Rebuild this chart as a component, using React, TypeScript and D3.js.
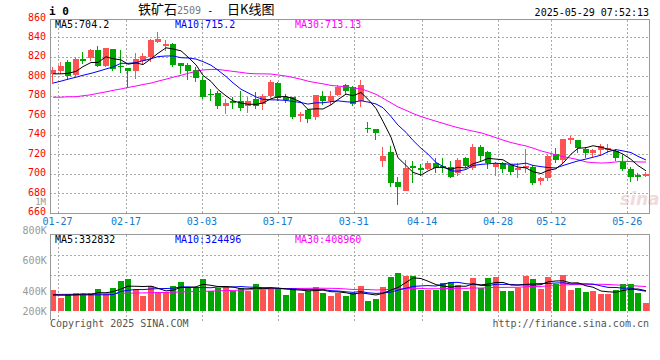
import React from "react";
import * as d3 from "d3";

const DATES = [
  "01-24","01-27","02-05","02-06","02-07","02-10","02-11","02-12","02-13","02-14",
  "02-17","02-18","02-19","02-20","02-21","02-24","02-25","02-26","02-27","02-28",
  "03-03","03-04","03-05","03-06","03-07","03-10","03-11","03-12","03-13","03-14",
  "03-17","03-18","03-19","03-20","03-21","03-24","03-25","03-26","03-27","03-28",
  "03-31","04-01","04-02","04-03","04-07","04-08","04-09","04-10","04-11",
  "04-14","04-15","04-16","04-17","04-18","04-21","04-22","04-23","04-24","04-25",
  "04-28","04-29","04-30","05-06","05-07","05-08","05-09",
  "05-12","05-13","05-14","05-15","05-16","05-19","05-20","05-21","05-22","05-23",
  "05-26","05-27","05-28","05-29"
];

const OPEN = [
  802, 805.5, 814.5, 801.5, 817.5, 818.5, 827, 810.5, 827.5, 811,
  808, 805.5, 816, 820, 835, 831, 833, 814, 811.5, 806,
  796, 782, 783, 770, 774.5, 774.5, 769.5, 777, 771.5, 779.5,
  793, 779, 778.5, 759.5, 765.5, 758.5, 780, 775, 781, 791,
  789, 774.5, 747, 746, 713, 722.5, 691.5, 682.5, 708,
  705.5, 705, 711.5, 708, 706.5, 701, 716.5, 706, 727.5, 722.5,
  706.5, 710.5, 709, 704, 705.5, 707, 693,
  696, 720.5, 714.5, 735, 735, 725.5, 721, 724, 724.5, 723,
  712.5, 705, 698.5, 697.5
];
const HIGH = [
  810, 814.5, 817, 820, 825, 827.5, 831.5, 829.5, 828, 827,
  808.5, 823.5, 823.5, 838, 845, 837, 834.5, 814, 814, 810,
  800, 786.5, 784.5, 777, 778.5, 784.5, 778.5, 784, 781.5, 796,
  794.5, 781.5, 779, 763.5, 766.5, 781, 784.5, 785, 791.5, 792.5,
  790, 796, 753.5, 746, 727, 728.5, 696.5, 714, 713,
  709.5, 713, 716, 716, 713, 716, 717, 730, 729.5, 723.5,
  712, 712, 710, 711, 725, 709, 697,
  719.5, 726, 736, 738.5, 735, 727.5, 725, 730, 730.5, 725.5,
  719.5, 706.5, 701, 702
];
const LOW = [
  792.5, 802.5, 796, 799, 813, 816, 809.5, 809.5, 805, 803.5,
  789, 797, 813, 814.5, 834.5, 825.5, 809.5, 802, 796.5, 794,
  776.5, 775, 766, 761.5, 766.5, 764, 762, 766, 765.5, 778,
  775, 772.5, 756, 753.5, 752, 755, 771, 771, 779.5, 782,
  769, 768.5, 741.5, 735, 707, 686, 668, 682, 690,
  697.5, 703.5, 700.5, 701, 695.5, 698, 706, 704, 713, 705,
  697.5, 701, 699, 695.5, 701, 688, 688.5,
  692.5, 711.5, 711, 731, 721.5, 716.5, 717, 719, 721, 713.5,
  703, 691, 692.5, 696.5
];
const CLOSE = [
  806, 810.5, 800, 817.5, 815.5, 827, 811, 829, 807.5, 809.5,
  805, 817.5, 820.5, 837, 838, 833, 811.5, 811, 805, 798,
  779, 780.5, 769.5, 772.5, 772.5, 767.5, 774.5, 769, 779.5, 794,
  777.5, 776, 758.5, 761.5, 756.5, 780.5, 775, 780, 788.5, 784.5,
  772, 791.5, 745.5, 741.5, 718, 690.5, 686.5, 706, 706,
  704, 711.5, 705.5, 705.5, 696.5, 714, 708, 727, 718, 711.5,
  710.5, 704.5, 702, 705.5, 707.5, 690.5, 695.5,
  718, 714, 736, 736.5, 726, 721, 724, 728.5, 726.5, 716.5,
  705, 697, 697, 699.5
];
const VOLUME = [
  344000, 219000, 273000, 295000, 273000, 295000, 361000, 273000, 382000, 492000,
  525000, 355000, 251000, 410000, 317000, 317000, 410000, 481000, 399000, 372000,
  525000, 328000, 382000, 399000, 328000, 382000, 328000, 443000, 344000, 382000,
  382000, 262000, 382000, 301000, 328000, 399000, 301000, 251000, 290000, 251000,
  290000, 410000, 164000, 197000, 393000, 557000, 617000, 574000, 574000,
  339000, 339000, 339000, 459000, 475000, 426000, 328000, 541000, 372000, 541000,
  557000, 328000, 328000, 372000, 574000, 525000, 361000,
  557000, 443000, 590000, 344000, 377000, 311000, 328000, 279000, 279000, 344000,
  443000, 443000, 295000, 137000
];

// moving-average values before enough history exists
const MA5_HEAD = [802.5, 802.5, 803, 805];
const MA10_HEAD = [793, 795, 797, 799, 801, 803, 805, 807.5, 809.5];
const MA30_HEAD = [
  778.5, 778.5, 779, 779, 780, 781, 782.5, 784, 785.5, 787,
  788.5, 790, 791.5, 793, 795, 797, 799, 801, 803, 805,
  806.5, 807, 807, 806, 805, 804, 803, 802.5, 802.5
];
const VMA5_HEAD = [265000, 262000, 262000, 266000];
const VMA10_HEAD = [262000, 262000, 263000, 263000, 264000, 264000, 265000, 266000, 268000];
const VMA30_HEAD = [
  272000, 273000, 274000, 275000, 276000, 278000, 280000, 282000, 285000, 288000,
  292000, 295000, 297000, 300000, 302000, 305000, 308000, 312000, 315000, 318000,
  322000, 326000, 330000, 334000, 338000, 343000, 348000, 353000, 358000
];

const PRICE_TICKS = [860, 840, 820, 800, 780, 760, 740, 720, 700, 680, 660];
const DATE_TICKS = ["01-27", "02-17", "03-03", "03-17", "03-31", "04-14", "04-28", "05-12", "05-26"];
const VOL_TICK_LABELS = ["800K", "600K", "400K", "200K"];
const PRICE_LEGEND = ["704.2", "715.2", "713.13"];
const VOL_LEGEND = ["332832", "324496", "408960"];

function movingAverage(values: number[], n: number, head: number[]): number[] {
  return values.map((_, i) =>
    i < n - 1 ? head[i] : (d3.mean(values.slice(i - n + 1, i + 1)) as number)
  );
}

const LEFT = 50;
const RIGHT = 650;
const P_TOP = 19.5;
const P_BOT = 213.5;
const V_TOP = 234.5;
const V_BOT = 311;

const RED = "#ff5252";
const GREEN = "#00a600";
const MONO = "'DejaVu Sans Mono', monospace";
const CJK = "'Noto Sans CJK SC', sans-serif";

export default function App() {
  const xBand = d3.scaleBand<string>().domain(DATES).range([LEFT, RIGHT]).padding(0);
  const xGrid = d3.scalePoint<string>().domain(DATES).range([LEFT, RIGHT]);
  const yP = d3.scaleLinear().domain([660, 860]).range([212.7, 17.8]);
  const yV = d3.scaleLinear().domain([0, 1262000]).range([V_BOT, 234]);

  const bodyW = Math.round(xBand.step() * 0.8);
  const left = (d: string) => Math.round(xBand(d) as number);
  const cx = (i: number) => left(DATES[i]) + bodyW / 2;

  const ma5 = movingAverage(CLOSE, 5, MA5_HEAD);
  const ma10 = movingAverage(CLOSE, 10, MA10_HEAD);
  const ma30 = movingAverage(CLOSE, 30, MA30_HEAD);
  const vma5 = movingAverage(VOLUME, 5, VMA5_HEAD);
  const vma10 = movingAverage(VOLUME, 10, VMA10_HEAD);
  const vma30 = movingAverage(VOLUME, 30, VMA30_HEAD);

  const pLine = d3.line<number>().x((_, i) => cx(i)).y((v) => yP(v));
  const vLine = d3.line<number>().x((_, i) => cx(i)).y((v) => yV(v));

  const gridColor = "#aaa";
  const dash = "2,2";
  const gy = (v: number) => Math.round(yP(v)) + 0.5;

  return (
    <svg
      width={660}
      height={360}
      style={{ position: "fixed", left: 0, top: 0, background: "#fff" }}
      fontFamily={MONO}
      fontSize={10}
    >
      <rect x={0} y={0} width={660} height={360} fill="#fff" />

      {/* header */}
      <text x={49} y={15} fontWeight="bold" fontSize={11} fill="#000">i 0</text>
      <text x={138} y={14} fill="#000">
        <tspan fontFamily={CJK} fontSize={13}>铁矿石</tspan>
        <tspan fill="#777">2509</tspan>
        <tspan> - </tspan>
        <tspan x={227} fontFamily={CJK} fontSize={13}>日K线图</tspan>
      </text>
      <text x={649} y={15.5} textAnchor="end" fill="#000">2025-05-29 07:52:13</text>

      {/* price grid */}
      {PRICE_TICKS.filter((t) => t < 860 && t > 660).map((t) => (
        <line key={"hg" + t} x1={LEFT} x2={RIGHT} y1={gy(t)} y2={gy(t)}
          stroke={gridColor} strokeDasharray={dash} shapeRendering="crispEdges" />
      ))}
      {DATE_TICKS.map((d) => {
        const x = Math.round(xGrid(d) as number) + 0.5;
        return (
          <g key={"vg" + d}>
            <line x1={x} x2={x} y1={P_TOP} y2={P_BOT} stroke={gridColor}
              strokeDasharray={dash} shapeRendering="crispEdges" />
            <line x1={x} x2={x} y1={V_TOP} y2={321} stroke={gridColor}
              strokeDasharray={dash} shapeRendering="crispEdges" />
          </g>
        );
      })}

      {/* watermark */}
      <text x={620} y={205} fontFamily="'DejaVu Sans', sans-serif" fontSize={17}
        fontStyle="italic" fontWeight="bold" fill="#e6c4c4" opacity={0.6}>sina</text>

      {/* candles */}
      {DATES.map((d, i) => {
        const o = OPEN[i], c = CLOSE[i];
        const up = c >= o;
        const color = up ? RED : GREEN;
        const L = left(d);
        const top = Math.round(yP(Math.max(o, c)));
        const bot = Math.round(yP(Math.min(o, c)));
        const h = Math.max(1, bot - top);
        return (
          <g key={"c" + d} shapeRendering="crispEdges">
            <line x1={L + 2.5} x2={L + 2.5} y1={Math.round(yP(HIGH[i]))}
              y2={Math.round(yP(LOW[i]))} stroke={color} />
            <rect x={L} y={top} width={bodyW} height={h} fill={color} />
          </g>
        );
      })}

      {/* price MAs */}
      <path d={pLine(ma30) as string} fill="none" stroke="#ff00ff" strokeWidth={1} />
      <path d={pLine(ma10) as string} fill="none" stroke="#0000ff" strokeWidth={1} />
      <path d={pLine(ma5) as string} fill="none" stroke="#000" strokeWidth={1} />

      {/* price frame */}
      <g stroke="#999" shapeRendering="crispEdges">
        <line x1={LEFT} x2={RIGHT} y1={P_TOP} y2={P_TOP} />
        <line x1={LEFT} x2={RIGHT} y1={P_BOT} y2={P_BOT} />
        <line x1={LEFT + 0.5} x2={LEFT + 0.5} y1={P_TOP} y2={P_BOT} />
        <line x1={RIGHT - 0.5} x2={RIGHT - 0.5} y1={P_TOP} y2={P_BOT} />
      </g>

      {/* price legend */}
      <text x={55} y={27.6} fill="#000">MA5:{PRICE_LEGEND[0]}</text>
      <text x={175} y={27.6} fill="#0000ff">MA10:{PRICE_LEGEND[1]}</text>
      <text x={295} y={27.6} fill="#ff00ff">MA30:{PRICE_LEGEND[2]}</text>

      {/* price axis labels */}
      {PRICE_TICKS.map((t) => (
        <text key={"pt" + t} x={46} y={yP(t) + 2.7} textAnchor="end" fill="#f00">{t}</text>
      ))}
      <text x={46} y={204.8} textAnchor="end" fill="#999" fontSize={9}>1M</text>

      {/* date labels */}
      {DATE_TICKS.map((d) => (
        <text key={"dl" + d} x={xGrid(d) as number} y={225.3} textAnchor="middle" fill="#0f7ad0">{d}</text>
      ))}

      {/* volume grid */}
      {[255.5, 275.5].map((y) => (
        <line key={"vh" + y} x1={LEFT} x2={RIGHT} y1={y} y2={y} stroke={gridColor}
          strokeDasharray={dash} shapeRendering="crispEdges" />
      ))}

      {/* volume bars */}
      {DATES.map((d, i) => {
        const up = CLOSE[i] >= OPEN[i];
        const y = Math.round(yV(VOLUME[i]));
        return (
          <rect key={"v" + d} x={left(d)} y={y} width={bodyW} height={V_BOT - y}
            fill={up ? RED : GREEN} shapeRendering="crispEdges" />
        );
      })}

      {/* volume MAs */}
      <path d={vLine(vma30) as string} fill="none" stroke="#ff00ff" strokeWidth={1} />
      <path d={vLine(vma10) as string} fill="none" stroke="#0000ff" strokeWidth={1} />
      <path d={vLine(vma5) as string} fill="none" stroke="#000" strokeWidth={1} />

      {/* volume frame */}
      <g stroke="#999" shapeRendering="crispEdges">
        <line x1={LEFT} x2={RIGHT} y1={V_TOP} y2={V_TOP} />
        <line x1={LEFT + 0.5} x2={LEFT + 0.5} y1={V_TOP} y2={320} />
        <line x1={RIGHT - 0.5} x2={RIGHT - 0.5} y1={V_TOP} y2={V_BOT} />
      </g>

      {/* volume legend */}
      <text x={55} y={242.6} fill="#000">MA5:{VOL_LEGEND[0]}</text>
      <text x={175} y={242.6} fill="#0000ff">MA10:{VOL_LEGEND[1]}</text>
      <text x={295} y={242.6} fill="#ff00ff">MA30:{VOL_LEGEND[2]}</text>

      {/* volume axis labels */}
      {VOL_TICK_LABELS.map((t, k) => (
        <text key={"vl" + t} x={46.7} y={[234.4, 263.6, 294.8, 314.8][k]} textAnchor="end" fill="#999">{t}</text>
      ))}

      {/* footer */}
      <text x={50} y={327} fill="#555">Copyright 2025 SINA.COM</text>
      <text x={649} y={327} textAnchor="end" fill="#555">http://finance.sina.com.cn</text>
    </svg>
  );
}
